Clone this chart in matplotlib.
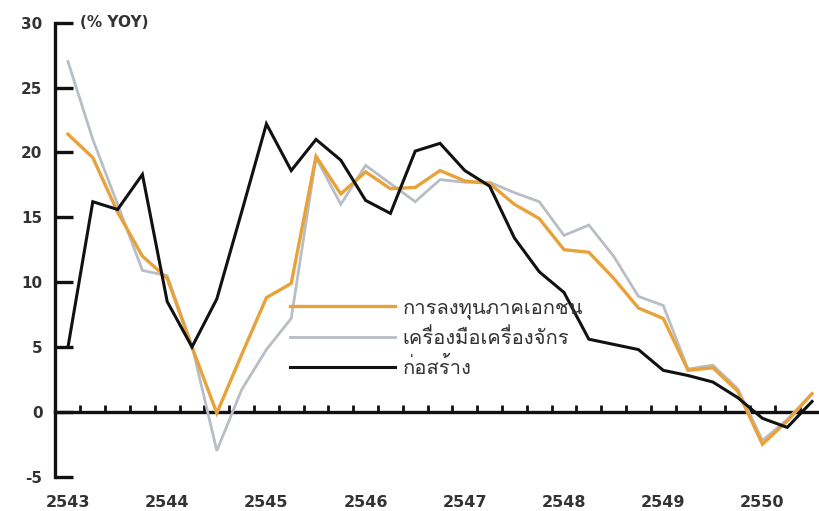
import matplotlib
matplotlib.use("Agg")
import matplotlib.pyplot as plt
from matplotlib import font_manager
from matplotlib.ft2font import FT2Font
from matplotlib.lines import Line2D
import numpy as np

# Quarterly growth, % YoY, 2543Q1 .. 2550Q3
years = ["2543", "2544", "2545", "2546", "2547", "2548", "2549", "2550"]
private_investment = [21.4, 19.6, 15.4, 12.0, 10.3, 5.0, -0.1, 4.4, 8.8, 9.9,
                      19.7, 16.8, 18.5, 17.2, 17.3, 18.6, 17.8, 17.6, 16.0, 14.9,
                      12.5, 12.3, 10.3, 8.0, 7.2, 3.2, 3.4, 1.6, -2.5, -0.7, 1.4]
machinery = [27.0, 21.0, 16.0, 10.9, 10.5, 5.1, -3.0, 1.7, 4.8, 7.2,
             19.6, 16.0, 19.0, 17.6, 16.2, 17.9, 17.7, 17.7, 16.9, 16.2,
             13.6, 14.4, 12.0, 8.9, 8.2, 3.3, 3.6, 1.8, -2.2, -0.6, 1.4]
construction = [5.0, 16.2, 15.6, 18.3, 8.5, 5.0, 8.7, 15.4, 22.2, 18.6,
                21.0, 19.4, 16.3, 15.3, 20.1, 20.7, 18.6, 17.4, 13.4, 10.8,
                9.2, 5.6, 5.2, 4.8, 3.2, 2.8, 2.3, 1.1, -0.5, -1.2, 0.8]
labels = ["การลงทุนภาคเอกชน", "เครื่องมือเครื่องจักร", "ก่อสร้าง"]
y_ticks = [-5, 0, 5, 10, 15, 20, 25, 30]
unit_label = "(% YOY)"


def thai_font():
    for f in font_manager.fontManager.ttflist:
        try:
            if 0x0E01 in FT2Font(f.fname).get_charmap():
                return f.name
        except Exception:
            continue
    return "DejaVu Sans"


THAI = thai_font()
TXT = "#333333"
ORANGE = "#E8A23A"
GREY = "#B9BDC4"
BLACK = "#111111"

W, H = 819, 511
fig = plt.figure(figsize=(W / 100, H / 100), dpi=100)
fig.patch.set_facecolor("white")

left_px, right_px, top_px, bot_px = 55, 819, 22.7, 476.7
ax = fig.add_axes([left_px / W, 1 - bot_px / H,
                   (right_px - left_px) / W, (bot_px - top_px) / H])

x = np.arange(len(private_investment))
ax.plot(x, machinery, color=GREY, lw=2.0, solid_joinstyle="miter", zorder=3)
ax.plot(x, private_investment, color=ORANGE, lw=2.4, solid_joinstyle="miter", zorder=4)
ax.plot(x, construction, color=BLACK, lw=2.2, solid_joinstyle="miter", zorder=5)

ax.set_xlim(-0.524, 30.28)
ax.set_ylim(-5, 30)

for s in ["top", "right", "bottom"]:
    ax.spines[s].set_visible(False)
ax.spines["left"].set_linewidth(2.4)
ax.spines["left"].set_color(BLACK)

ax.set_yticks(y_ticks)
ax.set_yticklabels([str(v) for v in y_ticks])
ax.tick_params(axis="y", direction="in", length=13, width=2.4, color=BLACK,
               pad=9, labelsize=11, labelcolor=TXT)
for t in ax.get_yticklabels():
    t.set_fontweight("bold")

# year labels along the bottom
ax.set_xticks(np.arange(0, len(years) * 4, 4))
ax.set_xticklabels(years)
ax.tick_params(axis="x", length=0, pad=13, labelsize=11.5, labelcolor=TXT)
for t in ax.get_xticklabels():
    t.set_fontweight("bold")

# zero line with quarter ticks
zero_frac = (0 - (-5)) / 35
zax = ax.secondary_xaxis(zero_frac)
zax.spines["bottom"].set_linewidth(2.4)
zax.spines["bottom"].set_color(BLACK)
zax.set_xticks(np.arange(0.5, 30, 1.0))
zax.set_xticklabels([])
zax.tick_params(axis="x", direction="in", length=5, width=2.0, color=BLACK)

ax.text(0.48, 30, unit_label, ha="left", va="center",
        fontsize=11, fontweight="bold", color=TXT)

handles = [Line2D([], [], color=ORANGE, lw=2.4),
           Line2D([], [], color=GREY, lw=2.0),
           Line2D([], [], color=BLACK, lw=2.2)]
leg = fig.legend(handles, labels, loc="upper left",
                 bbox_to_anchor=(290 / W, 1 - 298.5 / H), frameon=False,
                 borderpad=0, borderaxespad=0,
                 handlelength=5.2, handletextpad=0.4, labelspacing=0.45,
                 prop={"family": [THAI, "DejaVu Sans"], "size": 14.5})
for t in leg.get_texts():
    t.set_color(TXT)

fig.savefig("out.png", dpi=100, facecolor="white")
